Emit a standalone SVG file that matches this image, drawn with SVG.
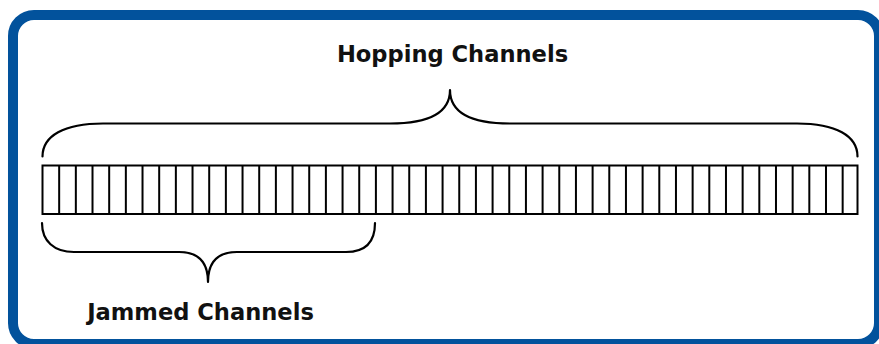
<svg xmlns="http://www.w3.org/2000/svg" width="879" height="344" viewBox="0 0 879 344">
  <style>
    .frame { fill: #ffffff; stroke: #02529c; stroke-width: 10; }
    .cell { fill: none; stroke: #000000; stroke-width: 2; }
    .brace { fill: none; stroke: #000000; stroke-width: 2.2; stroke-linecap: round; stroke-linejoin: round; }
    .label { font-family: "DejaVu Sans", "Liberation Sans", sans-serif; font-weight: bold; font-size: 22.6px; fill: #111111; text-anchor: middle; }
  </style>
  <rect width="879" height="344" fill="#ffffff"/>
  <g id="frame">
    <rect class="frame" x="13" y="15" width="866" height="329" rx="21" ry="21"/>
  </g>
  <g id="channels">
    <rect class="cell" x="42.5" y="165.5" width="815" height="48.5"/>
    <path class="cell" d="M59.17 165.5V214 M75.84 165.5V214 M92.51 165.5V214 M109.18 165.5V214 M125.85 165.5V214 M142.52 165.5V214 M159.19 165.5V214 M175.86 165.5V214 M192.53 165.5V214 M209.2 165.5V214 M225.87 165.5V214 M242.54 165.5V214 M259.21 165.5V214 M275.88 165.5V214 M292.55 165.5V214 M309.22 165.5V214 M325.89 165.5V214 M342.56 165.5V214 M359.23 165.5V214 M375.9 165.5V214 M392.57 165.5V214 M409.24 165.5V214 M425.91 165.5V214 M442.58 165.5V214 M459.25 165.5V214 M475.92 165.5V214 M492.59 165.5V214 M509.26 165.5V214 M525.93 165.5V214 M542.6 165.5V214 M559.27 165.5V214 M575.94 165.5V214 M592.61 165.5V214 M609.28 165.5V214 M625.95 165.5V214 M642.62 165.5V214 M659.29 165.5V214 M675.96 165.5V214 M692.63 165.5V214 M709.3 165.5V214 M725.97 165.5V214 M742.64 165.5V214 M759.31 165.5V214 M775.98 165.5V214 M792.65 165.5V214 M809.32 165.5V214 M825.99 165.5V214 M842.66 165.5V214"/>
  </g>
  <g id="connectors">
    <path id="hopping-brace" class="brace" d="M42.5 156.5 C42.5 136 64 123.5 103 123.5 L390 123.5 C428 123.5 450 113 450 90 C450 113 472 123.5 510 123.5 L797 123.5 C836 123.5 857.5 136 857.5 156.5"/>
    <path id="jammed-brace" class="brace" d="M42 223 C42 241 54 252 74 252 L179 252 C198 252 208 262 208 282 C208 262 218 252 237 252 L346 252 C366 252 375 241 375 223"/>
  </g>
  <g id="hopping-label">
    <text class="label" x="452.5" y="61.5">Hopping Channels</text>
  </g>
  <g id="jammed-label">
    <text class="label" x="200.5" y="320">Jammed Channels</text>
  </g>
</svg>
